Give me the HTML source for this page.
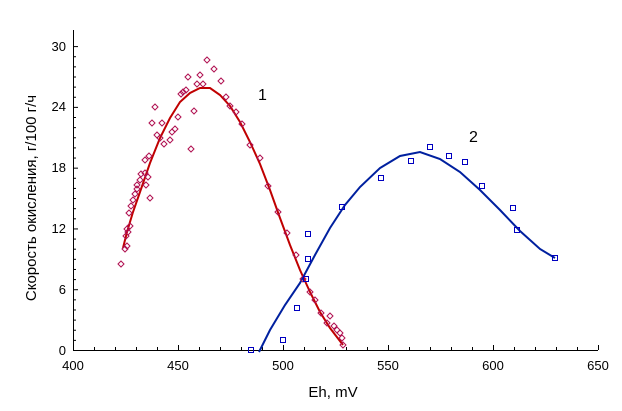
<!DOCTYPE html>
<html><head><meta charset="utf-8"><style>body{margin:0;background:#fff}svg{display:block}</style></head><body>
<svg width="622" height="411" xmlns="http://www.w3.org/2000/svg" font-family="Liberation Sans, sans-serif">
<g stroke="#000" stroke-width="1">
<line x1="73.5" y1="30" x2="73.5" y2="350.5"/>
<line x1="73" y1="350.5" x2="598" y2="350.5"/>
</g>
<g id="ticks" stroke="#000" stroke-width="1"></g>
<g font-size="13" fill="#000" text-anchor="end">
<text x="66" y="355">0</text><text x="66" y="294">6</text><text x="66" y="233">12</text><text x="66" y="172">18</text><text x="66" y="111">24</text><text x="66" y="51">30</text>
</g>
<g font-size="13" fill="#000" text-anchor="middle">
<text x="73" y="370">400</text><text x="178" y="370">450</text><text x="283" y="370">500</text><text x="388" y="370">550</text><text x="493" y="370">600</text><text x="598" y="370">650</text>
</g>
<text x="333" y="397" font-size="15" text-anchor="middle">Eh, mV</text>
<text transform="translate(36,198) rotate(-90)" font-size="15" text-anchor="middle">Скорость окисления, г/100 г/ч</text>
<text x="258" y="100" font-size="16">1</text>
<text x="469" y="142" font-size="16">2</text>
<polyline fill="none" stroke="#c00000" stroke-width="2" points="123,248 127,232 133,212 140,192 150,163 160,138 170,118 180,102 190,93 200,88 210,88 220,95 230,106 240,122 250,142 260,164 270,190 280,218 290,245 300,270 310,292 320,312 330,328 343,345"/>
<polyline fill="none" stroke="#00209f" stroke-width="2" points="259,352 270,330 285,305 300,283 315,255 330,228 345,205 360,187 380,168 400,156 420,152 440,159 460,172 480,190 500,210 520,231 540,249 555,258"/>
<g fill="none" stroke="#b01050" stroke-width="1" id="dia"></g>
<g fill="none" stroke="#0000c0" stroke-width="1" id="sq"></g>
<script>
var ns="http://www.w3.org/2000/svg";
var t=document.getElementById("ticks");
for(var i=1;i<=30;i++){var y=350.5-i*10.13;var l=document.createElementNS(ns,"line");l.setAttribute("x1",73);l.setAttribute("x2",i%6==0?78:76);l.setAttribute("y1",y);l.setAttribute("y2",y);t.appendChild(l);}
for(var i=1;i<=25;i++){var x=73.5+i*21;var l=document.createElementNS(ns,"line");l.setAttribute("x1",x);l.setAttribute("x2",x);l.setAttribute("y1",350);l.setAttribute("y2",i%5==0?345:347);t.appendChild(l);}
var d=[[121,264],[125,249],[127,246],[126,236],[128,232],[127,229],[130,226],[129,213],[131,206],[133,200],[135,194],[137,189],[137,185],[140,180],[141,174],[145,173],[146,185],[148,177],[149,156],[145,160],[150,198],[155,107],[152,123],[157,135],[160,138],[162,123],[164,144],[170,140],[172,132],[175,129],[178,117],[181,94],[183,92],[186,90],[188,77],[191,149],[194,111],[197,84],[200,75],[203,84],[207,60],[214,69],[221,81],[226,97],[230,106],[236,112],[242,124],[250,145],[260,158],[268,186],[278,212],[287,233],[296,255],[303,279],[310,292],[315,300],[321,313],[327,323],[330,316],[334,326],[337,330],[340,333],[342,338],[343,345]];
var g=document.getElementById("dia");
d.forEach(function(p){var e=document.createElementNS(ns,"polygon");e.setAttribute("points",(p[0]-3)+","+p[1]+" "+p[0]+","+(p[1]-3)+" "+(p[0]+3)+","+p[1]+" "+p[0]+","+(p[1]+3));g.appendChild(e);});
var s=[[251,350],[283,340],[297,308],[308,259],[308,234],[306,279],[342,207],[381,178],[411,161],[430,147],[449,156],[465,162],[482,186],[513,208],[517,230],[555,258]];
var h=document.getElementById("sq");
s.forEach(function(p){var e=document.createElementNS(ns,"rect");e.setAttribute("x",p[0]-2.5);e.setAttribute("y",p[1]-2.5);e.setAttribute("width",5);e.setAttribute("height",5);h.appendChild(e);});
</script>
</svg>
</body></html>
